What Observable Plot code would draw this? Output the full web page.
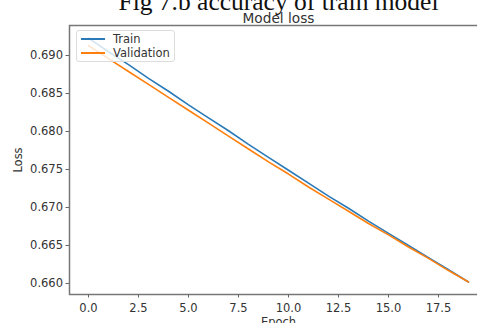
<!DOCTYPE html>
<html>
<head>
<meta charset="utf-8">
<script src="https://cdn.jsdelivr.net/npm/d3@7"></script>
<script src="https://cdn.jsdelivr.net/npm/@observablehq/plot@0.6"></script>
<style>
  html, body { margin: 0; padding: 0; background: white; overflow: hidden; }
  #wrap { position: relative; width: 477px; height: 323px; overflow: hidden; }
  #legend {
    position: absolute; left: 76px; top: 30px; width: 99px; height: 32px;
    box-sizing: border-box; border: 1px solid #dcdcdc; border-radius: 3px;
    background: rgba(255,255,255,0.8);
    font-family: "DejaVu Sans", sans-serif; font-size: 11.5px; color: #333;
    padding: 1px 0 0 4px;
  }
  .item { display: flex; align-items: center; height: 14px; }
  .item svg { width: 24px; height: 14px; margin-right: 8px; }
</style>
</head>
<body>
<div id="wrap"></div>
<script>
const caption = "Fig 7.b accuracy of train model";
const title = "Model loss";
const xLabel = "Epoch";
const yLabel = "Loss";
const seriesNames = ["Train", "Validation"];
const seriesColors = ["#2a7ab8", "#ff7f0e"];
const epochs = [0,1,2,3,4,5,6,7,8,9,10,11,12,13,14,15,16,17,18,19];
const trainLoss = [0.6923,0.6905,0.6888,0.6870,0.6853,0.6835,0.6818,0.6801,0.6783,0.6766,0.6749,0.6732,0.6715,0.6699,0.6682,0.6666,0.6650,0.6634,0.6618,0.6602];
const valLoss   = [0.6913,0.6896,0.6879,0.6862,0.6845,0.6828,0.6811,0.6794,0.6777,0.6760,0.6744,0.6727,0.6711,0.6695,0.6679,0.6664,0.6648,0.6633,0.6617,0.6602];
const xTicks = [0, 2.5, 5, 7.5, 10, 12.5, 15, 17.5];
const yTicks = [0.660, 0.665, 0.670, 0.675, 0.680, 0.685, 0.690];

const data = [
  ...epochs.map((e, i) => ({epoch: e, loss: trainLoss[i], series: seriesNames[0]})),
  ...epochs.map((e, i) => ({epoch: e, loss: valLoss[i], series: seriesNames[1]}))
];

const chart = Plot.plot({
  width: 477, height: 323,
  marginLeft: 69, marginRight: -10, marginTop: 25, marginBottom: 29,
  style: {fontFamily: "DejaVu Sans, sans-serif", fontSize: "11.5px", color: "#333", background: "white", overflow: "hidden"},
  x: {domain: [-0.95, 19.95]},
  y: {domain: [0.65855, 0.69395]},
  color: {domain: seriesNames, range: seriesColors},
  marks: [
    Plot.frame({stroke: "#777", strokeWidth: 1.5}),
    Plot.axisY({ticks: yTicks, tickFormat: d3.format(".3f"), tickSize: 3.5, tickPadding: 3,
      stroke: "#666", label: yLabel, labelAnchor: "center", labelArrow: "none", labelOffset: 56}),
    Plot.axisX({ticks: xTicks, tickFormat: d3.format(".1f"), tickSize: 3.5, tickPadding: 6,
      stroke: "#666", label: xLabel, labelAnchor: "center", labelArrow: "none", labelOffset: 31}),
    Plot.line(data, {x: "epoch", y: "loss", z: "series", stroke: "series", strokeWidth: 1.6}),
    Plot.text([title], {frameAnchor: "top", dy: -12, fontSize: 13.7, fill: "#333"}),
    Plot.text([caption], {frameAnchor: "top", dy: -16, lineAnchor: "bottom", fontSize: 25.5, fontFamily: "Liberation Serif, serif", fill: "#111"})
  ]
});

const wrap = document.getElementById("wrap");
wrap.appendChild(chart);
const legend = document.createElement("div");
legend.id = "legend";
seriesNames.forEach((name, i) => {
  const item = document.createElement("div");
  item.className = "item";
  item.innerHTML = `<svg><line x1="0" x2="24" y1="7" y2="7" stroke="${seriesColors[i]}" stroke-width="2"/></svg><span>${name}</span>`;
  legend.appendChild(item);
});
wrap.appendChild(legend);
</script>
</body>
</html>
